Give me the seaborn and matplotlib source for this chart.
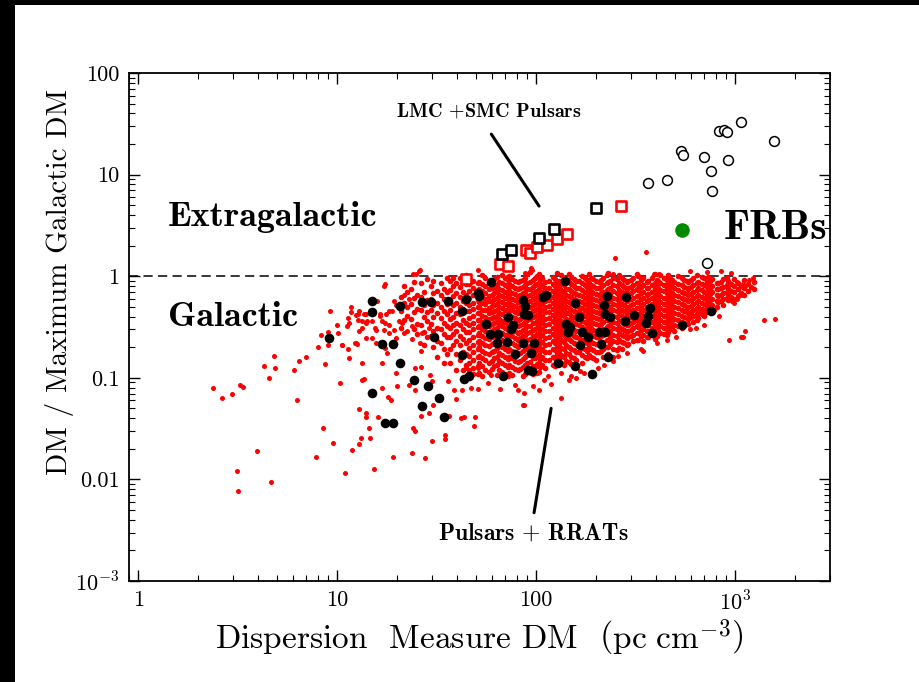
import matplotlib
matplotlib.use("Agg")
import matplotlib.pyplot as plt
import seaborn as sns
import pandas as pd
from matplotlib.patches import Rectangle
from matplotlib.ticker import FixedLocator, FixedFormatter, LogLocator, NullFormatter

# ---------------- data ----------------
frb_dm = [364, 455, 533, 545, 700, 756, 767, 832, 878, 915, 919, 1068, 1567, 722]
frb_ratio = [8.19, 8.77, 17.0, 15.7, 14.9, 10.8, 6.92, 27.0, 27.6, 26.4, 13.9, 33.1, 21.4, 1.36]

frb_green_dm = [539]
frb_green_ratio = [2.88]

lmc_black_dm = [67.1, 74.4, 103, 123, 200]
lmc_black_ratio = [1.66, 1.80, 2.38, 2.92, 4.71]
lmc_red_dm = [44.7, 65.8, 72.0, 89.4, 93.0, 101.5, 113, 128, 143, 266]
lmc_red_ratio = [0.934, 1.33, 1.27, 1.80, 1.69, 1.94, 2.05, 2.30, 2.61, 4.93]

rrat_dm = [9.12, 14.9, 14.9, 16.9, 19.2, 20.8, 26.6, 29.5, 36.0, 44.3, 42.3, 50.9, 51.7, 59.4,
           55.7, 58.7, 64.6, 63.3, 71.6, 72.4, 76.3, 75.0, 78.5, 68.2, 86.1, 87.1, 86.3, 91.2,
           42.3, 30.6, 20.8, 43.2, 46.1, 24.4, 28.6, 14.9, 32.4, 26.7, 34.5, 17.4, 19.1, 139,
           108, 112, 156, 227, 284, 219, 373, 91.2, 164, 223, 236, 312, 366, 281, 356, 142, 148,
           145, 170, 182, 206, 222, 211, 167, 97.7, 94.1, 231, 129, 156, 191, 383, 539, 756,
           95.2, 87.8]
rrat_ratio = [0.245, 0.567, 0.447, 0.214, 0.214, 0.506, 0.554, 0.554, 0.567, 0.597, 0.457, 0.688,
              0.643, 0.879, 0.339, 0.270, 0.268, 0.219, 0.225, 0.395, 0.334, 0.299, 0.172, 0.105,
              0.580, 0.427, 0.218, 0.118, 0.167, 0.251, 0.139, 0.0967, 0.105, 0.0951, 0.0825,
              0.0712, 0.0632, 0.0522, 0.0408, 0.0356, 0.0356, 0.893, 0.628, 0.650, 0.546, 0.640,
              0.625, 0.526, 0.487, 0.419, 0.397, 0.425, 0.397, 0.419, 0.404, 0.366, 0.347, 0.339,
              0.317, 0.283, 0.281, 0.251, 0.283, 0.281, 0.215, 0.209, 0.220, 0.176, 0.159, 0.140,
              0.130, 0.110, 0.279, 0.331, 0.459, 0.116, 0.506]

# scattered pulsars, (DM, ratio) pairs
psr_outer = [
    2.37, .079, 2.63, .063, 2.95, .070, 3.27, .085, 3.35, .081, 3.13, .012, 3.16, .0077,
    3.98, .019, 4.68, .0094, 4.31, .13, 4.57, .099, 4.84, .163, 4.90, .124, 6.09, .119,
    6.31, .060, 6.46, .145, 7.0, .159, 7.85, .0166, 8.04, .202, 8.32, .262, 8.51, .0318,
    8.71, .137, 9.02, .209, 9.02, .281, 9.2, .452, 9.55, .0226, 10.0, .329, 10.3, .089,
    10.6, .209, 11.0, .0116, 11.4, .193, 11.5, .157, 11.9, .0193, 11.7, .50, 11.8, .445,
    12.3, .219, 12.9, .0222, 12.9, .049, 13.2, .0255, 13.3, .139, 13.7, .097, 14.0, .0452,
    14.0, .0409, 14.5, .0318, 14.6, .0255, 15.3, .0127, 16.0, .041, 16.9, .0786, 18.0, .0652,
    18.6, .061, 19.1, .0167, 23.7, .018, 27.6, .0164, 24.2, .032, 24.6, .0297, 30.0, .0238,
    34.7, .0276, 34.7, .0248, 42.0, .0402, 43.3, .0409, 49.4, .0409, 49.0, .0338, 26.5, .0418,
    28.8, .045, 30.3, .0539, 36.6, .0424, 39.6, .0625, 38.5, .0764, 42.2, .0764, 47.2, .0793,
    51.3, .0776, 44.4, .125, 47.2, .107, 51.3, .125, 59.5, .107, 57.5, .088, 65.7, .0776,
    78.2, .0859, 81.3, .0764, 87.1, .0707, 86.1, .0545, 36.0, .0924, 29.9, .094, 29.2, .107,
    24.6, .0764, 22.9, .0859, 24.6, .125, 26.4, .129, 26.3, .182, 26.2, .22, 23.8, .241,
    21.8, .274, 20.1, .0825, 19.7, .112, 16.9, .139, 13.4, .096,
    12.9, .452, 13.3, .366, 14.0, .42, 15.9, .576, 16.5, .42, 17.7, .42, 18.2, .452, 17.5, .84,
    17.2, .80, 19.4, .567, 21.7, .66, 22.9, .59, 24.2, 1.04, 26.0, 1.14, 11.5, .347, 11.2, .322,
    12.8, .42, 13.9, .347, 16.5, .403, 15.5, .31, 17.5, .347, 18.2, .276, 19.7, .247, 21.2, .35,
    22.4, .287, 23.8, .322, 26.7, .276, 28.8, .31, 10.1, .274, 10.6, .208, 11.4, .389, 12.4, .413,
    12.8, .374, 13.6, .42, 14.2, .36, 15.0, .36, 15.6, .298, 16.8, .36, 17.2, .298, 18.2, .334,
    19.3, .298, 18.9, .452, 19.7, .526, 20.4, .36, 13.4, .31, 12.9, .287, 12.4, .22, 12.6, .215,
    15.6, .22, 17.5, .197, 17.9, .176, 13.9, .247, 15.0, .247,
    25.7, 1.12, 25.0, 1.06, 51.3, 1.14, 95, 1.15, 87.8, 1.08, 94, 1.21, 243, 1.04, 390, 1.05,
    417, 1.05, 595, 1.12, 724, 1.10, 847, 1.12, 950, 1.08, 358, 1.72, 248, 1.51, 1230, .96,
    1170, .91, 1100, .83, 1023, .873,
    1393, .374, 1585, .383, 1125, .287, 1068, .253, 1100, .253, 930, .234, 634, .31, 1023, .59,
    1084, .66, 966, .567, 780, .47, 1125, .797, 1047, .66, 986, .546, 826, .403, 700, .334, 595, .30,
    134, .063, 87.1, .054, 96.6, .0825, 104, .0764, 119, .087, 110, .096, 115, .103, 134, .112,
    147, .096, 150, .103, 159, .10, 166, .116, 175, .112, 204, .125, 219, .135, 243, .145,
    257, .163, 288, .175, 337, .19, 343, .182, 407, .22, 457, .238, 502, .25,
]

# dense pulsar cloud, listed per narrow DM strip: (DM, [ratios])
psr_core = [
    (20.9, [.63, .45, .31]), (21.6, [.80, .55, .37]), (22.4, [.70, .50, .41]),
    (23.4, [.74, .53, .38]), (24.3, [.88, .61, .44, .30]), (25.1, [.66, .48, .34, .27]),
    (26.3, [.85, .62, .47, .33]), (27.2, [.70, .52, .40, .28, .21]), (28.2, [.93, .58, .44, .36, .25]),
    (29.5, [.80, .60, .46, .34, .26]), (30.5, [.90, .68, .52, .40, .29, .20]), (31.6, [.72, .55, .43, .31, .23, .16]),
    (33.1, [.86, .66, .50, .39, .30, .22]), (34.3, [.75, .59, .45, .35, .27, .19, .14]),
    (35.5, [.95, .70, .53, .42, .32, .25, .17]),
    (37.1, [.90, .73, .58, .47, .38, .31, .25, .19, .14]), (38.4, [.97, .80, .64, .52, .40, .33, .27, .21]),
    (39.8, [.85, .68, .55, .43, .35, .29, .23, .17, .12]),
    (41.7, [.95, .78, .63, .50, .42, .33, .26, .21, .15]), (43.1, [.88, .70, .57, .46, .37, .30, .24, .18, .12]),
    (44.6, [1.02, .83, .66, .55, .45, .35, .28, .22, .17, .135]),
    (48.2, [.90, .76, .66, .55, .48, .41, .35, .30, .25, .21, .18, .15, .125, .108]),
    (46.2, [.97, .83, .71, .61, .52, .45, .385, .33, .28, .235, .195, .165, .14, .118]),
    (50.9, [.86, .73, .63, .58, .50, .43, .37, .315, .265, .225, .19, .16, .13, .11]),
    (55.2, [.95, .80, .69, .60, .53, .46, .40, .345, .29, .245, .21, .175, .15, .12]),
    (51.8, [.88, .75, .64, .56, .495, .43, .37, .32, .275, .23, .20, .165, .14, .112]),
    (53.5, [1.02, .84, .72, .62, .54, .47, .41, .355, .305, .26, .22, .185, .155, .13, .105]),
    (61.2, [.93, .79, .68, .59, .52, .455, .40, .35, .30, .26, .22, .185, .155, .13]),
    (58.0, [.86, .74, .645, .565, .49, .43, .375, .325, .28, .24, .205, .17, .14, .115]),
    (63.6, [.98, .82, .71, .615, .535, .47, .41, .36, .31, .27, .23, .195, .16, .135, .107]),
    (59.8, [.90, .77, .66, .575, .505, .44, .385, .335, .29, .25, .215, .18, .148, .122]),
    (69.9, [.96, .81, .70, .61, .53, .465, .405, .355, .31, .265, .225, .19, .16, .133, .11]),
    (65.0, [.88, .755, .655, .57, .50, .435, .38, .33, .285, .245, .21, .175, .145, .12]),
    (67.6, [1.03, .85, .73, .635, .555, .485, .42, .365, .32, .275, .235, .20, .168, .14, .115]),
    (71.9, [.91, .78, .675, .59, .515, .45, .39, .34, .295, .255, .218, .183, .152, .127, .104]),
    (76.1, [.94, .80, .69, .60, .525, .46, .40, .345, .30, .26, .22, .185, .155, .128, .106]),
    (80.8, [.87, .745, .645, .56, .49, .43, .37, .32, .278, .238, .20, .17, .142, .118]),
    (73.0, [1.0, .835, .72, .625, .545, .475, .415, .36, .31, .268, .228, .193, .162, .135, .112]),
    (78.4, [.90, .77, .665, .58, .505, .44, .385, .333, .288, .248, .212, .178, .148, .123]),
    (88.3, [.97, .82, .705, .615, .535, .47, .41, .355, .305, .265, .225, .19, .16, .133, .11]),
    (83.5, [.89, .76, .66, .575, .50, .44, .38, .33, .285, .245, .21, .175, .147, .122]),
    (90.4, [1.05, .86, .74, .64, .56, .49, .425, .37, .32, .275, .235, .20, .167, .14, .116]),
    (85.6, [.92, .785, .68, .59, .515, .45, .395, .34, .295, .255, .218, .183, .153, .127, .105]),
    (99.2, [.95, .81, .70, .61, .53, .465, .405, .35, .30, .26, .22, .185, .155, .128]),
    (93.0, [1.1, .88, .75, .65, .565, .495, .43, .375, .325, .28, .24, .205, .172, .143, .118]),
    (96.0, [.92, .79, .685, .595, .52, .455, .395, .345, .298, .258, .22, .187, .157, .13, .108]),
    (101.3, [1.0, .84, .72, .625, .545, .475, .415, .36, .31, .268, .23, .195, .163, .136, .112]),
    (107.5, [.96, .815, .705, .61, .535, .47, .41, .355, .305, .265, .227, .192, .16, .133]),
    (111.5, [.88, .76, .66, .575, .50, .44, .38, .33, .287, .248, .212, .178, .149, .124]),
    (103.0, [1.04, .86, .74, .64, .56, .49, .425, .37, .32, .276, .236, .20, .168, .14, .115]),
    (105.2, [.91, .78, .675, .59, .515, .45, .39, .34, .295, .255, .218, .184, .154, .128]),
    (121.0, [.99, .83, .715, .62, .54, .475, .415, .36, .31, .268, .23, .194, .162, .135]),
    (116.0, [.89, .765, .665, .58, .505, .44, .385, .335, .29, .25, .214, .18, .15]),
    (127.8, [1.08, .87, .745, .645, .565, .49, .43, .375, .325, .28, .24, .203, .17, .142]),
    (124.5, [.93, .795, .69, .60, .525, .46, .40, .348, .30, .26, .222, .188, .157, .13]),
    (137.5, [.96, .815, .70, .61, .535, .465, .405, .355, .305, .265, .226, .19, .16, .134]),
    (130.5, [.90, .775, .67, .585, .51, .445, .39, .34, .294, .254, .217, .183, .152]),
    (134.0, [1.02, .85, .73, .635, .555, .485, .42, .366, .318, .274, .234, .198, .166, .139]),
    (141.5, [.88, .755, .655, .57, .50, .435, .38, .33, .286, .246, .21, .176, .147]),
    (150.0, [.98, .83, .71, .62, .54, .47, .41, .36, .31, .268, .23, .194, .162, .136]),
    (159.5, [.90, .77, .665, .58, .505, .44, .385, .335, .29, .25, .214, .18, .15]),
    (146.5, [1.06, .87, .745, .645, .56, .49, .43, .373, .323, .28, .24, .203, .17, .142]),
    (154.5, [.93, .795, .685, .595, .52, .455, .397, .345, .298, .258, .22, .186, .155]),
    (176.0, [.95, .81, .70, .61, .53, .465, .405, .352, .305, .264, .226, .19, .16]),
    (163.5, [.89, .765, .66, .575, .50, .44, .383, .333, .288, .248, .212, .178]),
    (170.0, [1.01, .85, .73, .635, .555, .485, .42, .366, .317, .273, .234, .198, .166, .14]),
    (180.5, [.92, .785, .68, .59, .515, .45, .393, .342, .296, .256, .219, .185, .155]),
    (188.5, [.97, .82, .71, .615, .535, .47, .41, .355, .307, .265, .227, .192, .161]),
    (199.0, [.90, .77, .665, .58, .505, .44, .385, .335, .29, .25, .214, .18, .15]),
    (183.5, [1.05, .86, .74, .64, .56, .49, .425, .37, .32, .277, .237, .20, .168]),
    (194.0, [.93, .795, .685, .595, .52, .455, .397, .345, .298, .258, .221, .187, .157]),
    (217.0, [.96, .815, .70, .61, .53, .465, .405, .353, .305, .264, .226, .19, .16]),
    (206.0, [.88, .76, .66, .575, .50, .437, .38, .332, .287, .248, .212, .179]),
    (227.5, [1.03, .855, .735, .64, .555, .485, .423, .368, .318, .275, .236, .20, .167]),
    (211.5, [.92, .785, .68, .59, .515, .45, .392, .342, .296, .256, .22, .185]),
    (244.0, [.97, .825, .71, .615, .535, .468, .408, .355, .307, .266, .228, .192, .162]),
    (236.5, [.89, .765, .665, .578, .503, .44, .383, .334, .289, .25, .213]),
    (230.5, [1.07, .87, .745, .645, .562, .49, .428, .372, .322, .278, .238, .201, .17]),
    (255.5, [.93, .795, .688, .598, .522, .456, .398, .346, .30, .26, .223, .188]),
    (270.5, [.95, .81, .70, .61, .532, .465, .405, .352, .304, .263, .225, .19]),
    (286.0, [.88, .755, .655, .572, .498, .435, .38, .33, .285, .246, .21]),
    (262.0, [1.02, .85, .73, .634, .553, .483, .42, .366, .316, .273, .234, .198]),
    (278.0, [.915, .785, .678, .59, .515, .45, .393, .342, .296, .256, .219]),
    (306.0, [.97, .825, .71, .615, .537, .47, .41, .356, .308, .266, .228]),
    (291.0, [.90, .77, .665, .578, .503, .44, .384, .334, .289, .25, .214]),
    (320.0, [1.04, .86, .74, .642, .56, .488, .426, .37, .32, .276, .237]),
    (298.5, [.925, .79, .683, .595, .518, .452, .395, .344, .298, .258]),
    (345.5, [.95, .81, .70, .608, .53, .463, .404, .352, .305, .264, .228]),
    (360.0, [.885, .76, .66, .574, .50, .437, .38, .332, .288, .25]),
    (327.0, [1.01, .845, .727, .632, .551, .482, .42, .366, .317, .274, .236]),
    (336.0, [.915, .785, .678, .59, .514, .448, .392, .341, .296, .257]),
    (384.0, [.96, .815, .705, .612, .534, .467, .407, .355, .308, .267]),
    (366.0, [.89, .765, .662, .577, .503, .44, .383, .334, .29, .252]),
    (396.0, [1.05, .86, .74, .642, .56, .488, .426, .371, .322, .278, .24]),
    (404.0, [.925, .79, .683, .595, .518, .452, .395, .344, .299, .26]),
    (441.0, [.97, .82, .708, .615, .536, .468, .408, .356, .31, .268]),
    (410.0, [.895, .768, .665, .578, .505, .44, .384, .335, .292]),
    (421.0, [1.02, .85, .73, .636, .554, .484, .422, .368, .32, .278]),
    (453.0, [.92, .788, .68, .593, .517, .451, .394, .343, .30, .262]),
    (470.0, [.95, .81, .70, .61, .532, .465, .406, .354, .31]),
    (496.0, [.885, .76, .658, .574, .50, .437, .382, .333, .29]),
    (459.0, [1.03, .855, .735, .638, .556, .485, .423, .369, .322, .28]),
    (481.0, [.915, .785, .678, .59, .514, .449, .392, .342, .30]),
    (541.0, [.96, .815, .703, .612, .534, .466, .407, .355, .312]),
    (573.0, [.89, .765, .662, .577, .503, .44, .384, .336]),
    (516.0, [1.0, .845, .728, .633, .552, .482, .42, .367, .325]),
    (556.0, [.92, .786, .68, .592, .516, .45, .394, .345]),
    (612.0, [.95, .81, .70, .61, .532, .465, .407, .357]),
    (580.0, [.88, .756, .656, .572, .50, .437, .383, .338]),
    (641.0, [1.02, .85, .73, .635, .553, .483, .423, .37]),
    (598.0, [.91, .78, .675, .588, .513, .448, .393]),
    (700.0, [.96, .815, .705, .613, .535, .467, .41]),
    (651.0, [.88, .76, .66, .575, .502, .44, .385]),
    (680.0, [.99, .84, .725, .63, .55, .48, .42]),
    (720.0, [.905, .777, .672, .585, .51, .447]),
    (770.0, [.94, .80, .692, .603, .526, .46]),
    (808.0, [.865, .745, .647, .565, .494]),
    (728.0, [.98, .83, .718, .625, .545]),
    (752.0, [.89, .765, .663, .578, .505]),
    (872.0, [.93, .79, .685, .597, .52]),
    (820.0, [.86, .74, .643, .56]),
    (906.0, [.96, .815, .706, .615]),
    (847.0, [.88, .758, .658, .573]),
    (925, [.90, .77, .668, .58]), (958, [.835, .72, .626]), (990, [.94, .80, .693, .60]),
    (1038, [.86, .74, .645]), (1075, [.80, .69]), (1112, [.91, .77, .66]),
    (1160, [.84, .72]), (1205, [.79]), (1250, [.87, .75]),
]

# annotation pointer lines (DM, ratio)
lmc_pointer_dm = [59.6, 103.5]
lmc_pointer_ratio = [25.0, 4.9]
psr_pointer_dm = [119, 97.7]
psr_pointer_ratio = [0.05, 0.0047]

x_ticks = [1, 10, 100, 1000]
x_ticklabels = ["1", "10", "100", r"$10^{3}$"]
y_ticks = [1e-3, 1e-2, 1e-1, 1, 10, 100]
y_ticklabels = [r"$10^{-3}$", "0.01", "0.1", "1", "10", "100"]

# ---------------- tables ----------------
psr_outer_df = pd.DataFrame({"dm": psr_outer[0::2], "ratio": psr_outer[1::2]})
core_dm, core_ratio = [], []
for dm, ratios in psr_core:
    core_dm += [dm] * len(ratios)
    core_ratio += list(ratios)
psr_core_df = pd.DataFrame({"dm": core_dm, "ratio": core_ratio})
rrat = pd.DataFrame({"dm": rrat_dm, "ratio": rrat_ratio})
frb = pd.DataFrame({"dm": frb_dm, "ratio": frb_ratio})
frbg = pd.DataFrame({"dm": frb_green_dm, "ratio": frb_green_ratio})
lmcb = pd.DataFrame({"dm": lmc_black_dm, "ratio": lmc_black_ratio})
lmcr = pd.DataFrame({"dm": lmc_red_dm, "ratio": lmc_red_ratio})

# ---------------- style ----------------
sns.set_style("ticks")
plt.rcParams.update({
    "font.family": ["cmr10", "DejaVu Sans"],
    "mathtext.fontset": "cm",
    "axes.unicode_minus": False,
    "axes.formatter.use_mathtext": True,
    "axes.linewidth": 1.3,
    "text.color": "black",
    "axes.labelcolor": "black",
    "xtick.color": "black",
    "ytick.color": "black",
    "axes.edgecolor": "black",
})

W, H = 919, 682
fig = plt.figure(figsize=(W / 100, H / 100), dpi=100)
fig.patch.set_facecolor("white")
ax = fig.add_axes([129 / W, 1 - 581 / H, (830 - 129) / W, (581 - 73) / H])
ax.set_xscale("log")
ax.set_yscale("log")

ax.axhline(1.0, color="black", lw=1.1, ls=(0, (6, 3.5)), zorder=1)

sns.scatterplot(data=psr_core_df, x="dm", y="ratio", color="red", s=16, linewidth=0,
                ax=ax, zorder=2, legend=False)
sns.scatterplot(data=psr_outer_df, x="dm", y="ratio", color="red", s=13, linewidth=0,
                ax=ax, zorder=2, legend=False)
sns.scatterplot(data=rrat, x="dm", y="ratio", color="black", s=48, linewidth=0,
                ax=ax, zorder=3, legend=False)
sns.scatterplot(data=lmcr, x="dm", y="ratio", marker="s", s=42, facecolor="white",
                edgecolor="red", linewidth=1.9, ax=ax, zorder=4, legend=False)
sns.scatterplot(data=lmcb, x="dm", y="ratio", marker="s", s=42, facecolor="white",
                edgecolor="black", linewidth=1.9, ax=ax, zorder=4, legend=False)
sns.scatterplot(data=frb, x="dm", y="ratio", marker="o", s=50, facecolor="white",
                edgecolor="black", linewidth=1.1, ax=ax, zorder=4, legend=False)
sns.scatterplot(data=frbg, x="dm", y="ratio", color="#008a00", s=110, linewidth=0,
                ax=ax, zorder=4, legend=False)

ax.plot(lmc_pointer_dm, lmc_pointer_ratio, color="black", lw=2.2, zorder=5)
ax.plot(psr_pointer_dm, psr_pointer_ratio, color="black", lw=2.2, zorder=5)

ax.set_xlim(0.9, 3000)
ax.set_ylim(1e-3, 100)
ax.xaxis.set_major_locator(FixedLocator(x_ticks))
ax.xaxis.set_major_formatter(FixedFormatter(x_ticklabels))
ax.yaxis.set_major_locator(FixedLocator(y_ticks))
ax.yaxis.set_major_formatter(FixedFormatter(y_ticklabels))
ax.xaxis.set_minor_locator(LogLocator(base=10, subs=range(2, 10), numticks=30))
ax.yaxis.set_minor_locator(LogLocator(base=10, subs=range(2, 10), numticks=30))
ax.xaxis.set_minor_formatter(NullFormatter())
ax.yaxis.set_minor_formatter(NullFormatter())
ax.tick_params(which="both", direction="in", top=True, right=True, colors="black")
ax.tick_params(which="major", length=8, width=1.0, labelsize=16, pad=7)
ax.tick_params(which="minor", length=4, width=0.8)
for sp in ax.spines.values():
    sp.set_linewidth(1.3)
    sp.set_color("black")

ax.set_ylabel("DM / Maximum Galactic DM", fontsize=21, color="black")
ax.yaxis.set_label_coords(-0.078, 0.589)
ax.set_xlabel(r"Dispersion  Measure DM  $\left(\mathrm{pc\ cm}^{-3}\right)$", fontsize=24,
              color="black")
ax.xaxis.set_label_coords(0.5, -0.072)

bold = ["cmb10", "DejaVu Sans"]
ax.text(1.41, 3.8, "Extragalactic", family=bold, fontsize=26, ha="left", va="center", color="black")
ax.text(1.41, 0.39, "Galactic", family=bold, fontsize=26, ha="left", va="center", color="black")
ax.text(881, 2.97, "FRBs", family=bold, fontsize=30, ha="left", va="center", color="black")
ax.text(58, 42, r"LMC $+$SMC Pulsars", family=bold, fontsize=14.5, ha="center", va="center",
        color="black")
ax.text(96.6, 0.0029, r"Pulsars $+$ RRATs", family=bold, fontsize=17, ha="center", va="center",
        color="black")

# black frame strips of the original image (left and top)
fig.add_artist(Rectangle((0, 0), 15 / W, 1, transform=fig.transFigure,
                         facecolor="black", edgecolor="none", zorder=10))
fig.add_artist(Rectangle((0, 1 - 5 / H), 1, 5 / H, transform=fig.transFigure,
                         facecolor="black", edgecolor="none", zorder=10))

fig.savefig("out.png", dpi=100, facecolor="white")
